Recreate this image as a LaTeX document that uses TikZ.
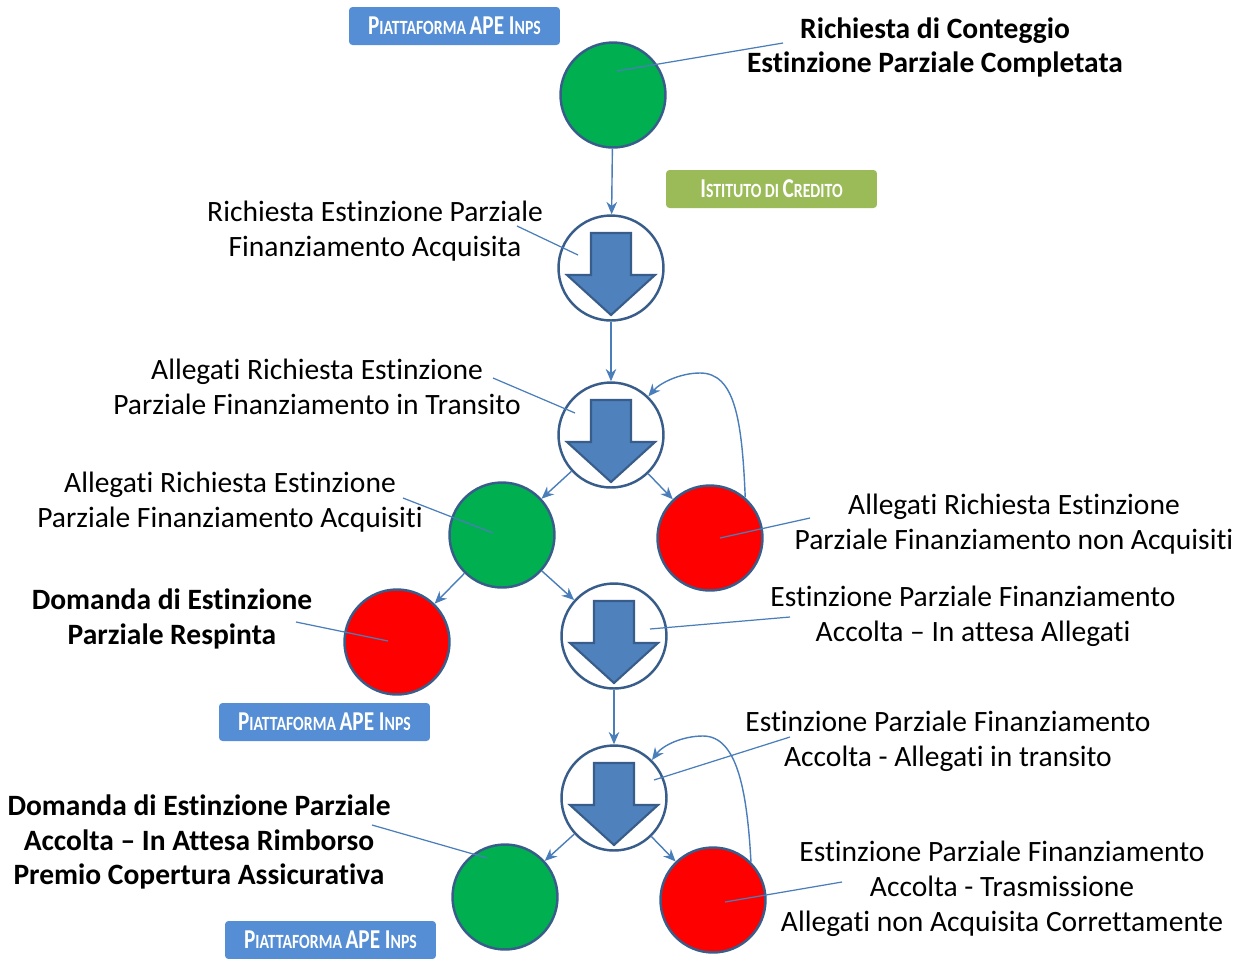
\documentclass[tikz,border=0pt]{standalone}
\usepackage{fontspec}
\setmainfont{Carlito}[Ligatures=NoCommon]
\newfontfamily\tabfont{Carlito}[FakeStretch=0.78, Ligatures=NoCommon]
\usetikzlibrary{calc,arrows.meta}
\definecolor{ogreen}{HTML}{00B050}
\definecolor{ored}{HTML}{FF0000}
\definecolor{oline}{HTML}{385D8A}
\definecolor{ofill}{HTML}{4F81BD}
\definecolor{conn}{HTML}{4A7EBB}
\definecolor{boxblue}{HTML}{558ED5}
\definecolor{boxgreen}{HTML}{9BBB59}
\newcommand\bgc{\fontsize{15.5}{15.5}\selectfont}
\newcommand\smc{\fontsize{11.5}{11.5}\selectfont}
\newcommand\dnarrow[1]{\filldraw[fill=ofill, draw=oline, line width=1.2pt, line join=miter]
  ([shift={(-20,-35)}]#1.center) -- ([shift={(20,-35)}]#1.center) -- ([shift={(20,7)}]#1.center)
  -- ([shift={(44,7)}]#1.center) -- ([shift={(0,47)}]#1.center) -- ([shift={(-44,7)}]#1.center)
  -- ([shift={(-20,7)}]#1.center) -- cycle;}
\tikzset{
 state/.style={circle, draw=oline, line width=1.4pt, minimum size=2.1cm, inner sep=0pt},
 gstate/.style={state, fill=ogreen},
 rstate/.style={state, fill=ored},
 astate/.style={state, fill=white},
 flow/.style={draw=conn, line width=0.8pt, -{Stealth[length=7pt,width=6pt]}},
 leader/.style={draw=conn, line width=0.7pt},
 lbl/.style={align=center, font=\fontsize{16.8}{19.8}\selectfont, inner sep=0pt},
 blbl/.style={align=center, font=\fontsize{16.8}{19.8}\selectfont\bfseries, inner sep=0pt},
 tab/.style={minimum width=4.22cm, minimum height=0.76cm, inner sep=0pt, text=white, font=\tabfont\bfseries, rounded corners=2pt},
}
\begin{document}
\begin{tikzpicture}[x=0.02cm, y=-0.02cm]
\useasboundingbox (0,0) rectangle (1249,958);
% tabs
\node[tab, fill=boxblue] (tab1) at (454.5,26) {\bgc P\smc IATTAFORMA \bgc APE I\smc NPS};
\node[tab, fill=boxgreen] (tab2) at (771.5,189) {\bgc I\smc STITUTO DI \bgc C\smc REDITO};
\node[tab, fill=boxblue] (tab3) at (324.5,722) {\bgc P\smc IATTAFORMA \bgc APE I\smc NPS};
\node[tab, fill=boxblue] (tab4) at (330.5,940) {\bgc P\smc IATTAFORMA \bgc APE I\smc NPS};
% states
\node[gstate] (g1) at (613,95) {};
\node[astate] (a1) at (611,268) {};
\node[astate] (a2) at (611,435) {};
\node[gstate] (g2) at (502,535) {};
\node[rstate] (r1) at (710,538) {};
\node[rstate] (r2) at (397,642) {};
\node[astate] (a3) at (614,636) {};
\node[astate] (a4) at (614,798) {};
\node[gstate] (g3) at (505,897) {};
\node[rstate] (r3) at (713,900) {};
\dnarrow{a1}
\dnarrow{a2}
\dnarrow{a3}
\dnarrow{a4}
% flows
\draw[flow] (g1) -- (a1);
\draw[flow] (a1) -- (a2);
\draw[flow] (a2) -- (g2);
\draw[flow] (a2) -- (r1);
\draw[flow] (g2) -- (r2);
\draw[flow] (g2) -- (a3);
\draw[flow] (a3) -- (a4);
\draw[flow] (a4) -- (g3);
\draw[flow] (a4) -- (r3);
\draw[flow] (r1.49) .. controls (742,420) and (735,373) .. (700,373) .. controls (680,373) and (660,383) .. (a2.46);
\draw[flow] (r3.45) .. controls (747,790) and (737,736) .. (703,736) .. controls (683,736) and (663,745) .. (a4.45);
% labels
\node[blbl] (t1) at (935,47.5) {Richiesta di Conteggio\\Estinzione Parziale Completata};
\node[lbl] (t2) at (375,231.5) {Richiesta Estinzione Parziale\\Finanziamento Acquisita};
\node[lbl] (t3) at (317,387) {Allegati Richiesta Estinzione\\Parziale Finanziamento in Transito};
\node[lbl] (t4) at (230,502) {Allegati Richiesta Estinzione\\Parziale Finanziamento Acquisiti};
\node[lbl] (t5) at (1014,524) {Allegati Richiesta Estinzione\\Parziale Finanziamento non Acquisiti};
\node[blbl] (t6) at (172,619) {Domanda di Estinzione\\Parziale Respinta};
\node[lbl] (t7) at (973,616) {Estinzione Parziale Finanziamento\\Accolta – In attesa Allegati};
\node[lbl] (t8) at (948,741) {Estinzione Parziale Finanziamento\\Accolta - Allegati in transito};
\node[blbl] (t9) at (199,842) {Domanda di Estinzione Parziale\\Accolta – In Attesa Rimborso\\Premio Copertura Assicurativa};
\node[lbl] (t10) at (1002,889) {Estinzione Parziale Finanziamento\\Accolta - Trasmissione\\Allegati non Acquisita Correttamente};
% leaders
\coordinate (s1) at (783,43);
\coordinate (s2) at (517,226);
\coordinate (s3) at (493,378);
\coordinate (s4) at (403,498);
\coordinate (s5) at (810,518);
\coordinate (s6) at (296,622);
\coordinate (s7) at (790,617);
\coordinate (s8) at (790,737);
\coordinate (s9) at (372,825);
\coordinate (s10) at (842,882);
\draw[leader] (s1) -- ([shift={(4,-24)}]g1.center);
\draw[leader] (s2) -- ([shift={(-33,-13)}]a1.center);
\draw[leader] (s3) -- ([shift={(-36,-22)}]a2.center);
\draw[leader] (s4) -- ([shift={(-9,-2)}]g2.center);
\draw[leader] (s5) -- ([shift={(10,0)}]r1.center);
\draw[leader] (s6) -- ([shift={(-9,-1)}]r2.center);
\draw[leader] (s7) -- ([shift={(36,-7)}]a3.center);
\draw[leader] (s8) -- ([shift={(40,-18)}]a4.center);
\draw[leader] (s9) -- ([shift={(-18,-39)}]g3.center);
\draw[leader] (s10) -- ([shift={(12,2)}]r3.center);
\end{tikzpicture}
\end{document}
